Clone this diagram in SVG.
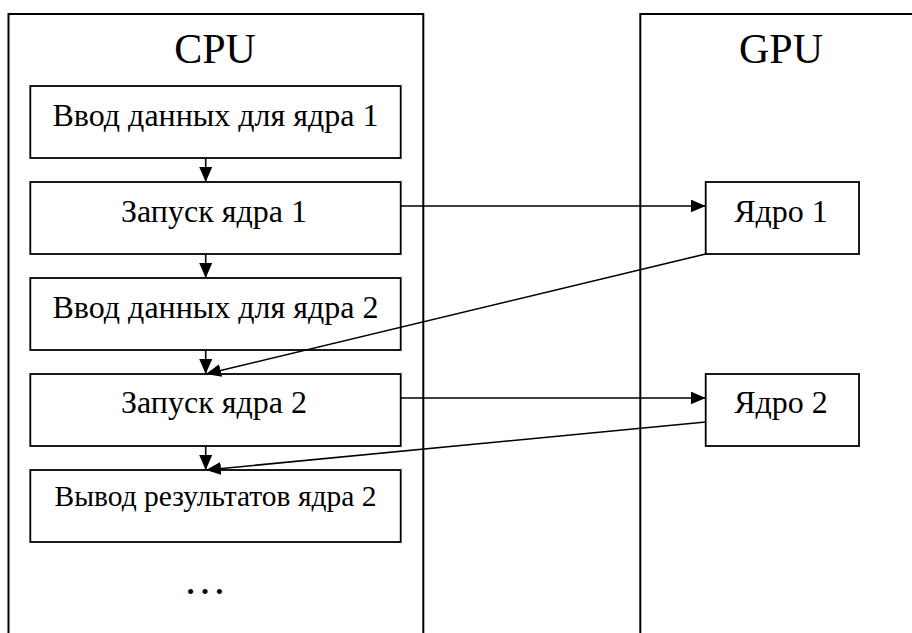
<svg xmlns="http://www.w3.org/2000/svg" width="912" height="633" viewBox="0 0 912 633">
<defs>
<marker id="ah" viewBox="0 0 15 13" refX="15" refY="6.5" markerWidth="15" markerHeight="13" markerUnits="userSpaceOnUse" orient="auto">
<path d="M0,0 L15,6.5 L0,13 Z" fill="#000"/>
</marker>
<style>
.panel{fill:none;stroke:#000;stroke-width:2}
.box{fill:#fff;stroke:#000;stroke-width:1.8}
.t{font-family:"Liberation Serif","Times New Roman",serif;fill:#000;text-anchor:middle}
.title{font-size:42px}
.lbl{font-size:32px}
.conn{fill:none;stroke:#000;stroke-width:1.6;marker-end:url(#ah)}
</style>
</defs>
<rect width="912" height="633" fill="#fff"/>
<g id="cpu-panel">
<path class="panel" d="M8.5,633 V14 H423.3 V633"/>
<text class="t title" x="215" y="63">CPU</text>
</g>
<g id="gpu-panel">
<path class="panel" d="M640.3,633 V14 H912"/>
<text class="t title" x="781" y="63">GPU</text>
</g>
<g id="n1">
<rect class="box" x="30.3" y="86" width="370.4" height="72"/>
<text class="t lbl" x="215.5" y="126">Ввод данных для ядра 1</text>
</g>
<g id="n2">
<rect class="box" x="30.3" y="182" width="370.4" height="72"/>
<text class="t lbl" x="214" y="222">Запуск ядра 1</text>
</g>
<g id="n3">
<rect class="box" x="30.3" y="278" width="370.4" height="72"/>
<text class="t lbl" x="215.5" y="318">Ввод данных для ядра 2</text>
</g>
<g id="n4">
<rect class="box" x="30.3" y="374" width="370.4" height="72"/>
<text class="t lbl" x="214" y="413">Запуск ядра 2</text>
</g>
<g id="n5">
<rect class="box" x="30.3" y="470" width="370.4" height="72"/>
<text class="t lbl" x="215.5" y="506" style="font-size:29.5px">Вывод результатов ядра 2</text>
</g>
<g id="dots">
<text class="t" x="205" y="594" style="font-size:43px">…</text>
</g>
<g id="k1">
<rect class="box" x="705.7" y="182" width="153.3" height="72"/>
<text class="t lbl" x="781" y="222">Ядро 1</text>
</g>
<g id="k2">
<rect class="box" x="705.7" y="374" width="153.3" height="72"/>
<text class="t lbl" x="781" y="413">Ядро 2</text>
</g>
<g id="connectors">
<line class="conn" x1="205.7" y1="158" x2="205.7" y2="182"/>
<line class="conn" x1="205.7" y1="254" x2="205.7" y2="278"/>
<line class="conn" x1="205.7" y1="350" x2="205.7" y2="374"/>
<line class="conn" x1="205.7" y1="446" x2="205.7" y2="470"/>
<line class="conn" x1="400.7" y1="206" x2="705.7" y2="206"/>
<line class="conn" x1="400.7" y1="398" x2="705.7" y2="398"/>
<line class="conn" x1="705.7" y1="254" x2="206" y2="374"/>
<line class="conn" x1="705.7" y1="422" x2="206" y2="470"/>
</g>
</svg>
